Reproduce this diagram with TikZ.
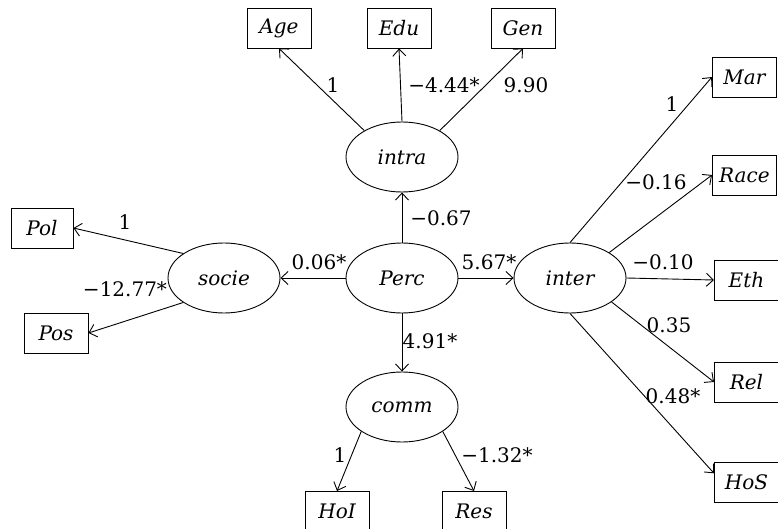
\documentclass[tikz,border=0pt]{standalone}
\usepackage{fontspec}
\setmainfont{DejaVu Serif}
\usepackage{tikz}
\usetikzlibrary{arrows.meta,positioning,shapes}

\begin{document}
\begin{tikzpicture}[x=1pt, y=-1pt, line width=0.9pt,
    font=\fontsize{20}{24}\selectfont,
    >={Straight Barb[length=7pt,width=13pt]},
    latent/.style={draw, ellipse, minimum width=112pt, minimum height=70pt, inner sep=0pt, font=\fontsize{20}{24}\selectfont\itshape},
    obs/.style={draw, rectangle, minimum width=64pt, minimum height=40pt, inner sep=2pt, font=\fontsize{20}{24}\selectfont\itshape},
    coef/.style={inner sep=0pt}]
    \useasboundingbox (0,0) rectangle (778,529);
    % latent variables
    \node[latent] (perc) at (402,278) {Perc};
    \node[latent] (intra) at (402,157) {intra};
    \node[latent] (socie) at (224,278) {socie};
    \node[latent] (inter) at (570,278) {inter};
    \node[latent] (comm) at (402,407) {comm};
    % observed variables
    \node[obs] (age) at (279,28) {Age};
    \node[obs] (edu) at (399,28) {Edu};
    \node[obs] (gen) at (523,28) {Gen};
    \node[obs, minimum width=62pt] (pol) at (42,228) {Pol};
    \node[obs] (pos) at (56,333) {Pos};
    \node[obs, anchor=north] (hoi) at (337,491) {HoI};
    \node[obs, anchor=north] (res) at (474,491) {Res};
    \node[obs, anchor=west] (mar) at (712,77) {Mar};
    \node[obs, anchor=west] (race) at (712,175) {Race};
    \node[obs, anchor=west] (eth) at (714,280) {Eth};
    \node[obs, anchor=west] (rel) at (714,382) {Rel};
    \node[obs, anchor=west] (hos) at (714,482) {HoS};
    % paths
    \draw[->] (perc) -- (intra);
    \draw[->] (perc) -- (socie);
    \draw[->] (perc) -- (inter);
    \draw[->] (perc) -- (comm);
    \draw[->] (intra.145) -- (age.south);
    \draw[->] (intra.north) -- (edu.south);
    \draw[->] (intra.35) -- (gen.south);
    \draw[->] (socie.149) -- (pol.east);
    \draw[->] (socie.211) -- (pos.east);
    \draw[->] (comm.211) -- (hoi.north);
    \draw[->] (comm.329) -- (res.north);
    \draw[->] (inter.north) -- (mar.west);
    \draw[->] (inter.33) -- (race.west);
    \draw[->] (inter.east) -- (eth.west);
    \draw[->] (inter.330) -- (rel.west);
    \draw[->] (inter.south) -- (hos.165);
    % coefficients
    \node[coef] (c-age) at (333,85) {1};
    \node[coef] (c-edu) at (444,85) {−4.44*};
    \node[coef] (c-gen) at (526,85) {9.90};
    \node[coef] (c-intra) at (441,218) {−0.67};
    \node[coef] (c-socie) at (319,262) {0.06*};
    \node[coef] (c-inter) at (489,262) {5.67*};
    \node[coef] (c-comm) at (430,341) {4.91*};
    \node[coef] (c-pol) at (125,222) {1};
    \node[coef] (c-pos) at (125,289) {−12.77*};
    \node[coef] (c-hoi) at (340,455) {1};
    \node[coef] (c-res) at (497,455) {−1.32*};
    \node[coef] (c-mar) at (672,104) {1};
    \node[coef] (c-race) at (656,182) {−0.16};
    \node[coef] (c-eth) at (663,262) {−0.10};
    \node[coef] (c-rel) at (669,325) {0.35};
    \node[coef] (c-hos) at (673,396) {0.48*};
\end{tikzpicture}
\end{document}
